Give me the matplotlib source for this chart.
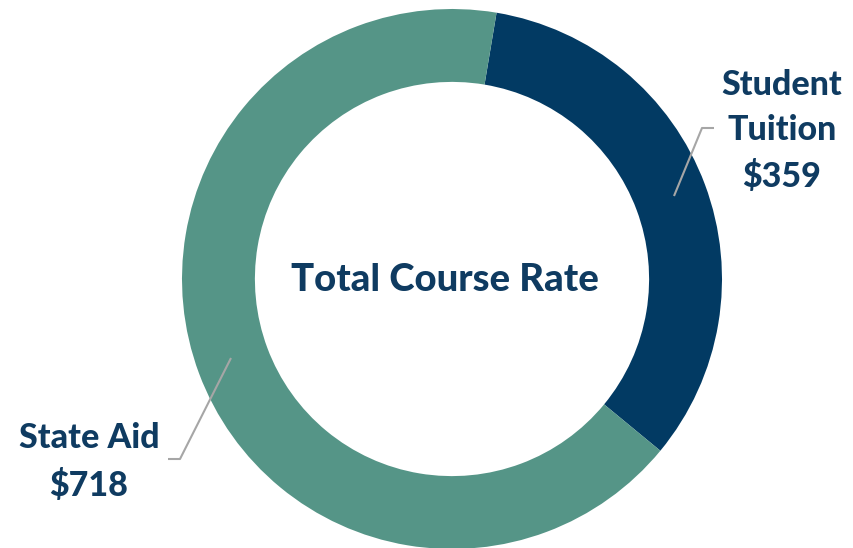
import matplotlib
matplotlib.use("Agg")
import matplotlib.pyplot as plt

categories = ["Student\nTuition", "State Aid"]
values = [359, 718]
value_labels = ["$359", "$718"]
center_title = "Total Course Rate"

colors = ["#023A63", "#559587"]
text_color = "#0F3B61"
W, H = 854, 548

fig = plt.figure(figsize=(W / 100, H / 100), dpi=100)
ax = fig.add_axes([0, 0, 1, 1])

cx, cy, R = 452, H - 279, 270
start = 90 - 9.5
ax.pie(values, colors=colors, startangle=start, counterclock=False,
       center=(cx, cy), radius=R, wedgeprops=dict(width=R * 0.27, linewidth=0),
       frame=True)
ax.set_xlim(0, W)
ax.set_ylim(0, H)
ax.axis("off")

font = "Lato"
ax.text(445, H - 280, center_title, ha="center", va="center", fontsize=27.5,
        fontweight=900, color=text_color, family=font)

ax.text(782, H - 131, categories[0] + "\n" + value_labels[0], ha="center", va="center",
        fontsize=24.5, fontweight=900, color=text_color, family=font, linespacing=1.52)
ax.text(89, H - 462, categories[1] + "\n" + value_labels[1], ha="center", va="center",
        fontsize=24.5, fontweight=900, color=text_color, family=font, linespacing=1.52)

lc = "#A6A6A6"
ax.plot([674, 702, 714], [H - 196, H - 128, H - 128], color=lc, lw=1.5, solid_capstyle="butt")
ax.plot([231, 180, 168], [H - 358, H - 459, H - 459], color=lc, lw=1.5, solid_capstyle="butt")

fig.savefig("out.png", dpi=100)
